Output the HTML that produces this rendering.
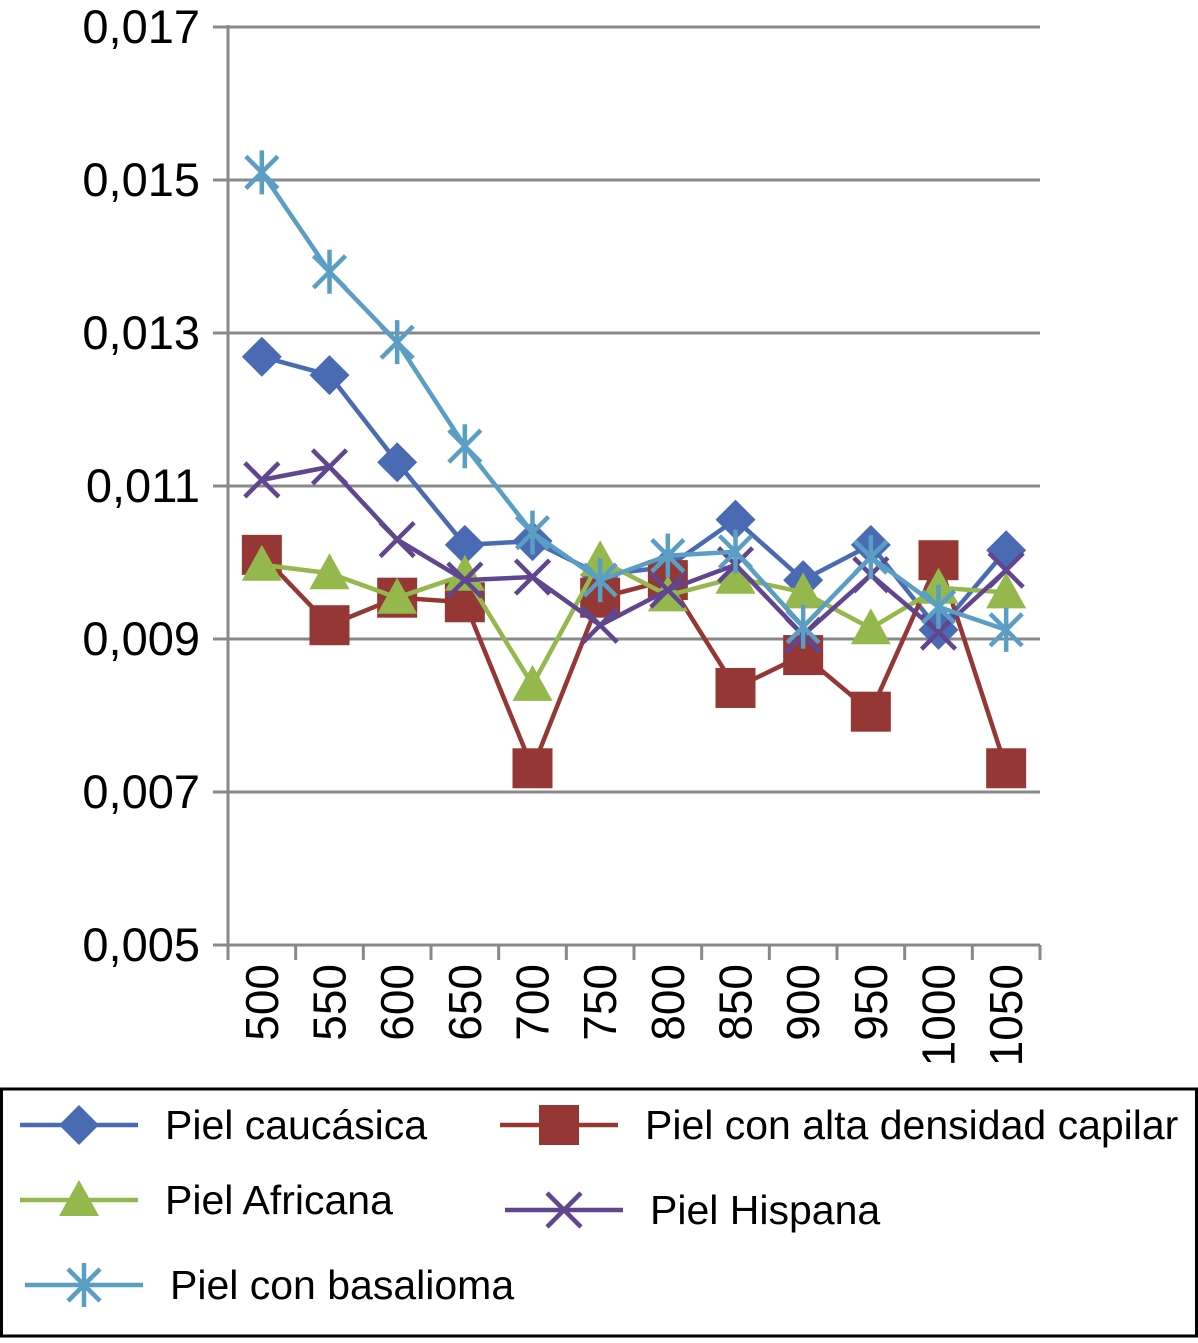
<!DOCTYPE html>
<html><head><meta charset="utf-8">
<style>
html,body{margin:0;padding:0;background:#fff;}
body{width:1198px;height:1338px;overflow:hidden;font-family:"Liberation Sans",sans-serif;}
</style></head>
<body>
<svg id="chart" width="1198" height="1338" xmlns="http://www.w3.org/2000/svg" font-family="Liberation Sans, sans-serif"></svg>
<script>
const categories=['500','550','600','650','700','750','800','850','900','950','1000','1050'];
const yTicks=[0.005,0.007,0.009,0.011,0.013,0.015,0.017];
const yTickLabels=['0,005','0,007','0,009','0,011','0,013','0,015','0,017'];
const caucasica=[0.01269,0.01245,0.01131,0.01023,0.01028,0.00984,0.00994,0.01056,0.00977,0.01023,0.00912,0.01016];
const altaDensidad=[0.0101,0.00918,0.00954,0.00948,0.00731,0.00954,0.00977,0.00836,0.00879,0.00805,0.01003,0.00731];
const africana=[0.00997,0.00986,0.00954,0.00984,0.0084,0.01003,0.00957,0.0098,0.00961,0.00914,0.00967,0.00961];
const hispana=[0.01108,0.01125,0.0103,0.00977,0.00981,0.00918,0.00964,0.00997,0.00905,0.00984,0.00909,0.0099];
const basalioma=[0.0151,0.0138,0.01288,0.01152,0.01039,0.00977,0.01009,0.01014,0.00916,0.01007,0.00942,0.00912];

const NS='http://www.w3.org/2000/svg';
const svg=document.getElementById('chart');
const X0=228,X1=1040,Y0=945,Y1=27,YMIN=0.005,YMAX=0.017;
const bw=(X1-X0)/categories.length;
const xs=i=>X0+bw*(i+0.5);
const ys=v=>Y0-(v-YMIN)/(YMAX-YMIN)*(Y0-Y1);
function el(tag,attrs,parent){const e=document.createElementNS(NS,tag);for(const k in attrs)e.setAttribute(k,attrs[k]);(parent||svg).appendChild(e);return e;}

yTicks.forEach((t,i)=>{
  const y=ys(t);
  if(i>0){const g=el('line',{x1:X0,x2:X1,y1:y,y2:y,stroke:'#888',"stroke-width":3});
  
  }
  const tk=el('line',{x1:X0-15,x2:X0,y1:y,y2:y,stroke:'#888',"stroke-width":3});
  
  
  const tx=el('text',{x:200,y:y+16,"text-anchor":"end","font-size":47,fill:'#000'});
  tx.textContent=yTickLabels[i];
  
  
});
const ya=el('line',{x1:X0,x2:X0,y1:Y1-2,y2:Y0,stroke:'#888',"stroke-width":3});


const xa=el('line',{x1:X0,x2:X1,y1:Y0,y2:Y0,stroke:'#888',"stroke-width":3});


for(let i=0;i<=categories.length;i++){
  const x=X0+bw*i;
  const t=el('line',{x1:x,x2:x,y1:Y0,y2:Y0+15,stroke:'#888',"stroke-width":3});
  
  
}
categories.forEach((c,i)=>{
  const x=xs(i)+16;
  const t=el('text',{x:x,y:964,"text-anchor":"end","font-size":46,fill:'#000',transform:`rotate(-90 ${x} 964)`});
  t.textContent=c;
  
  
});

function marker(type,x,y,color,g){
  if(type==='diamond')el('polygon',{points:`${x},${y-20} ${x+20},${y} ${x},${y+20} ${x-20},${y}`,fill:color},g);
  else if(type==='square')el('rect',{x:x-20,y:y-20,width:40,height:40,fill:color},g);
  else if(type==='triangle')el('polygon',{points:`${x},${y-20} ${x+20},${y+16} ${x-20},${y+16}`,fill:color},g);
  else if(type==='x'){el('path',{d:`M${x-17} ${y-17}L${x+17} ${y+17}M${x+17} ${y-17}L${x-17} ${y+17}`,stroke:color,"stroke-width":4.5},g);}
  else if(type==='star'){el('path',{d:`M${x-16} ${y-16}L${x+16} ${y+16}M${x+16} ${y-16}L${x-16} ${y+16}M${x} ${y-22}L${x} ${y+22}`,stroke:color,"stroke-width":4.5},g);}
}
const series=[
 {name:'caucasica',data:caucasica,color:'#4a6bb3',m:'diamond'},
 {name:'alta-densidad',data:altaDensidad,color:'#953735',m:'square'},
 {name:'africana',data:africana,color:'#94b84c',m:'triangle'},
 {name:'hispana',data:hispana,color:'#60468f',m:'x'},
 {name:'basalioma',data:basalioma,color:'#5a9ec4',m:'star'}
];
series.forEach(s=>{
  const g=el('g',{});
  
  
  const pts=s.data.map((v,i)=>`${xs(i)},${ys(v)}`).join(' ');
  const pl=el('polyline',{points:pts,fill:'none',stroke:s.color,"stroke-width":4.5},g);
  
  
  s.data.forEach((v,i)=>marker(s.m,xs(i),ys(v),s.color,g));
});

const lg=el('g',{});


el('rect',{x:1.5,y:1089,width:1195,height:247,fill:'none',stroke:'#000',"stroke-width":3},lg);
const entries=[
 {s:0,x1:20,x2:138,y:1125,tx:165,label:'Piel caucásica'},
 {s:1,x1:500,x2:618,y:1125,tx:645,label:'Piel con alta densidad capilar'},
 {s:2,x1:20,x2:138,y:1200,tx:165,label:'Piel Africana'},
 {s:3,x1:505,x2:623,y:1210,tx:650,label:'Piel Hispana'},
 {s:4,x1:25,x2:143,y:1285,tx:170,label:'Piel con basalioma'}
];
entries.forEach(e=>{
  const s=series[e.s];
  const g=el('g',{},lg);
  
  
  el('line',{x1:e.x1,x2:e.x2,y1:e.y,y2:e.y,stroke:s.color,"stroke-width":4.5},g);
  marker(s.m,(e.x1+e.x2)/2,e.y,s.color,g);
  const t=el('text',{x:e.tx,y:e.y+14,"font-size":41,fill:'#000'},g);
  t.textContent=e.label;
});
</script>
</body></html>
